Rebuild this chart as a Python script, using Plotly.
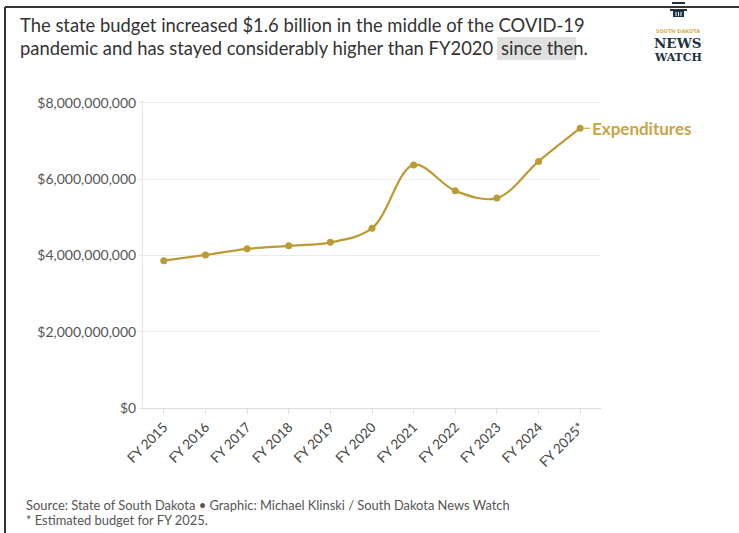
import plotly.graph_objects as go

# ---------------- data ----------------
categories = ["FY 2015", "FY 2016", "FY 2017", "FY 2018", "FY 2019", "FY 2020",
              "FY 2021", "FY 2022", "FY 2023", "FY 2024", "FY 2025*"]
expenditures = [3.86e9, 4.01e9, 4.17e9, 4.25e9, 4.34e9, 4.71e9,
                6.37e9, 5.69e9, 5.50e9, 6.46e9, 7.33e9]
y_tick_values = [0, 2e9, 4e9, 6e9, 8e9]
y_tick_labels = ["$0", "$2,000,000,000", "$4,000,000,000", "$6,000,000,000", "$8,000,000,000"]
series_name = "Expenditures"

title_line1 = "The state budget increased $1.6 billion in the middle of the COVID-19"
title_line2a = "pandemic and has stayed considerably higher than FY2020"
title_line2b = "since then."
source_text = "Source: State of South Dakota \u2022 Graphic: Michael Klinski / South Dakota News Watch"
note_text = "* Estimated budget for FY 2025."

# ---------------- layout helpers ----------------
W, H = 739, 533
ML, MR, MT, MB = 143, 138, 100, 125
PW, PH = W - ML - MR, H - MT - MB


def px_x(x):
    return (x - ML) / PW


def px_y(y):
    return (H - MB - y) / PH


LINE_COLOR = "#bb9b33"
LABEL_COLOR = "#c9a446"
FONT = "Lato, 'Open Sans', sans-serif"
TITLE_SIZE = 18.4

fig = go.Figure()
fig.add_trace(go.Scatter(
    x=categories, y=expenditures, mode="lines+markers",
    name=series_name,
    line=dict(color=LINE_COLOR, width=2.2, shape="spline", smoothing=1),
    marker=dict(color=LINE_COLOR, size=7),
    showlegend=False, hoverinfo="x+y",
))

annotations = [
    dict(text=title_line1, x=px_x(18), y=px_y(25), xanchor="left", yanchor="middle"),
    dict(text=title_line2a, x=px_x(18), y=px_y(48), xanchor="left", yanchor="middle"),
    dict(text=title_line2b, x=px_x(499), y=px_y(48), xanchor="left", yanchor="middle"),
]
for a in annotations:
    a.update(xref="paper", yref="paper", showarrow=False,
             font=dict(family=FONT, size=TITLE_SIZE, color="#333333"))

annotations += [
    dict(text=source_text, x=px_x(24), y=px_y(505), xanchor="left", yanchor="middle",
         xref="paper", yref="paper", showarrow=False,
         font=dict(family=FONT, size=12.9, color="#555555")),
    dict(text=note_text, x=px_x(24), y=px_y(520), xanchor="left", yanchor="middle",
         xref="paper", yref="paper", showarrow=False,
         font=dict(family=FONT, size=12.9, color="#555555")),
    # series label
    dict(text="<b>" + series_name + "</b>", x=categories[-1], y=expenditures[-1],
         xref="x", yref="y", showarrow=True, arrowhead=0, arrowwidth=1,
         arrowcolor=LINE_COLOR, ax=10, ay=0, xanchor="left", yanchor="middle",
         standoff=4, font=dict(family=FONT, size=17, color=LABEL_COLOR)),
    # logo text
    dict(text="<b>SOUTH DAKOTA</b>", x=px_x(678), y=px_y(31), xref="paper", yref="paper",
         showarrow=False, xanchor="center", yanchor="middle",
         font=dict(family="DejaVu Sans", size=5, color="#d2b04c")),
    dict(text="<b>NEWS</b>", x=px_x(678), y=px_y(43.5), xref="paper", yref="paper",
         showarrow=False, xanchor="center", yanchor="middle",
         font=dict(family="DejaVu Serif", size=13.5, color="#1d3142")),
    dict(text="<b>WATCH</b>", x=px_x(678), y=px_y(57), xref="paper", yref="paper",
         showarrow=False, xanchor="center", yanchor="middle",
         font=dict(family="DejaVu Serif", size=11, color="#1d3142")),
]

shapes = [
    # highlight behind "since then"
    dict(type="rect", xref="paper", yref="paper", x0=px_x(497), x1=px_x(576),
         y0=px_y(37), y1=px_y(60), fillcolor="#e0e0e0", line=dict(width=0), layer="below"),
    # frame
    dict(type="line", xref="paper", yref="paper", x0=px_x(5), x1=px_x(5),
         y0=px_y(7), y1=px_y(540), line=dict(color="#333333", width=2)),
    dict(type="line", xref="paper", yref="paper", x0=px_x(5), x1=px_x(745),
         y0=px_y(7), y1=px_y(7), line=dict(color="#333333", width=2)),
    # logo pillar icon
    dict(type="rect", xref="paper", yref="paper", x0=px_x(672), x1=px_x(685),
         y0=px_y(2), y1=px_y(4), fillcolor="#1d3142", line=dict(width=0)),
    dict(type="rect", xref="paper", yref="paper", x0=px_x(670), x1=px_x(687),
         y0=px_y(9), y1=px_y(11), fillcolor="#1d3142", line=dict(width=0)),
    dict(type="rect", xref="paper", yref="paper", x0=px_x(673), x1=px_x(684),
         y0=px_y(11), y1=px_y(17), fillcolor="#1d3142", line=dict(width=0)),
]
for xv in (676, 678.5, 681):
    shapes.append(dict(type="line", xref="paper", yref="paper", x0=px_x(xv), x1=px_x(xv),
                       y0=px_y(12), y1=px_y(16), line=dict(color="#ffffff", width=1)))

fig.update_layout(
    width=W, height=H,
    margin=dict(l=ML, r=MR, t=MT, b=MB, autoexpand=False),
    paper_bgcolor="white", plot_bgcolor="white",
    font=dict(family=FONT),
    annotations=annotations, shapes=shapes,
    xaxis=dict(type="category", range=[-0.5, len(categories) - 0.5],
               tickangle=-45, ticks="outside", ticklen=5, tickcolor="#dddddd",
               showline=True, linecolor="#dddddd", linewidth=1, showgrid=False,
               tickfont=dict(family=FONT, size=13.5, color="#444444"),
               fixedrange=True),
    yaxis=dict(range=[0, 8.07e9], tickvals=y_tick_values, ticktext=y_tick_labels,
               showgrid=True, gridcolor="#ececec", gridwidth=1,
               showline=True, linecolor="#e4e4e4", ticks="outside", ticklen=3,
               tickcolor="#e4e4e4", zeroline=False,
               tickfont=dict(family=FONT, size=14, color="#555555"),
               fixedrange=True),
)

fig.write_html("out.html", config={"displayModeBar": False})
